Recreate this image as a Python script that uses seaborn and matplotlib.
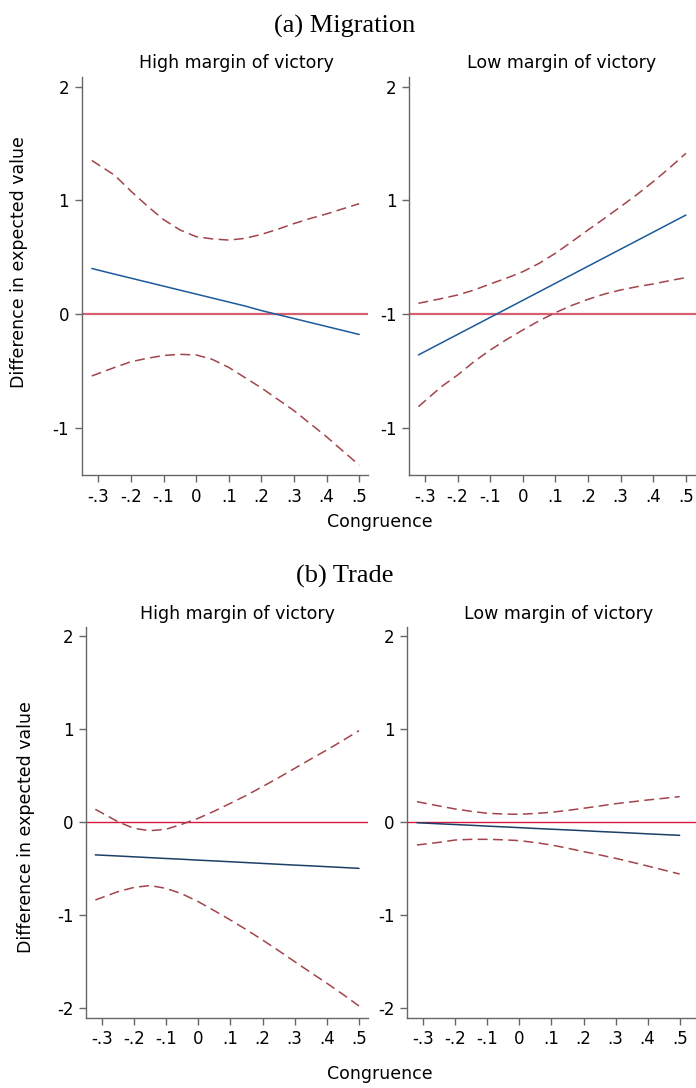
import matplotlib
matplotlib.use("Agg")
import matplotlib.pyplot as plt
import pandas as pd
import seaborn as sns

# shared grid of congruence values
congruence = [-0.32, -0.25, -0.2, -0.15, -0.1, -0.05, 0.0, 0.05, 0.1,
              0.15, 0.2, 0.25, 0.3, 0.35, 0.4, 0.45, 0.5]

# (a) Migration, high margin of victory
mig_high_est = [0.40, 0.35, 0.315, 0.28, 0.245, 0.21, 0.175, 0.14, 0.105,
                0.07, 0.03, -0.005, -0.04, -0.075, -0.11, -0.145, -0.18]
mig_high_hi = [1.35, 1.22, 1.08, 0.95, 0.83, 0.74, 0.68, 0.66, 0.65,
               0.665, 0.70, 0.745, 0.795, 0.84, 0.88, 0.925, 0.97]
mig_high_lo = [-0.545, -0.47, -0.42, -0.39, -0.365, -0.355, -0.36, -0.40, -0.47,
               -0.56, -0.65, -0.75, -0.85, -0.965, -1.08, -1.205, -1.33]

# (a) Migration, low margin of victory
mig_low_est = [-0.36, -0.255, -0.18, -0.105, -0.03, 0.045, 0.12, 0.195, 0.27,
               0.345, 0.42, 0.495, 0.57, 0.645, 0.72, 0.795, 0.87]
mig_low_hi = [0.094, 0.135, 0.167, 0.21, 0.264, 0.315, 0.372, 0.445, 0.534,
              0.635, 0.739, 0.84, 0.944, 1.05, 1.164, 1.285, 1.413]
mig_low_lo = [-0.815, -0.64, -0.537, -0.42, -0.317, -0.225, -0.141, -0.06, 0.012,
              0.075, 0.129, 0.175, 0.211, 0.24, 0.264, 0.293, 0.32]

# (b) Trade, high margin of victory
trade_high_est = [-0.35, -0.362, -0.371, -0.38, -0.389, -0.397, -0.407, -0.415, -0.424,
                  -0.433, -0.442, -0.451, -0.46, -0.468, -0.477, -0.486, -0.495]
trade_high_hi = [0.14, 0.007, -0.065, -0.09, -0.075, -0.02, 0.043, 0.12, 0.204,
                 0.29, 0.384, 0.48, 0.58, 0.68, 0.778, 0.88, 0.986]
trade_high_lo = [-0.835, -0.746, -0.70, -0.68, -0.71, -0.77, -0.853, -0.95, -1.05,
                 -1.155, -1.265, -1.38, -1.498, -1.615, -1.73, -1.85, -1.975]

# (b) Trade, low margin of victory
trade_low_est = [-0.004, -0.016, -0.024, -0.032, -0.041, -0.049, -0.057, -0.066, -0.074,
                 -0.082, -0.09, -0.099, -0.107, -0.115, -0.124, -0.132, -0.14]
trade_low_hi = [0.222, 0.175, 0.143, 0.118, 0.097, 0.089, 0.086, 0.095, 0.108,
                0.128, 0.151, 0.175, 0.2, 0.22, 0.24, 0.258, 0.276]
trade_low_lo = [-0.244, -0.215, -0.19, -0.183, -0.183, -0.188, -0.197, -0.218, -0.244,
                -0.278, -0.315, -0.35, -0.387, -0.428, -0.47, -0.513, -0.556]

x_ticks = [-0.3, -0.2, -0.1, 0.0, 0.1, 0.2, 0.3, 0.4, 0.5]
x_tick_labels = ["-.3", "-.2", "-.1", "0", ".1", ".2", ".3", ".4", ".5"]
mig_y_ticks = [2, 1, 0, -1]
mig_left_labels = ["2", "1", "0", "-1"]
mig_right_labels = ["2", "1", "-1", "-1"]
trade_y_ticks = [2, 1, 0, -1, -2]
trade_y_labels = ["2", "1", "0", "-1", "-2"]

sns.set_style("ticks")
plt.rcParams["font.family"] = ["DejaVu Sans"]
plt.rcParams["text.color"] = "black"

W, H = 696, 1088
fig = plt.figure(figsize=(W / 100, H / 100), dpi=100)

SPINE = "#666666"
DASH = "#a2444b"


def px_axes(x0, y0, x1, y1):
    return fig.add_axes([x0 / W, 1 - y1 / H, (x1 - x0) / W, (y1 - y0) / H])


def panel(ax, est, hi, lo, est_color, ref_color, ref_lw, xlim, ylim,
          yticks, ylabels):
    df = pd.DataFrame({"congruence": congruence, "est": est, "hi": hi, "lo": lo})
    ax.axhline(0, color=ref_color, lw=ref_lw, zorder=1)
    for col in ["hi", "lo"]:
        sns.lineplot(data=df, x="congruence", y=col, ax=ax, color=DASH,
                     linewidth=1.1, errorbar=None)
        ax.lines[-1].set_dashes([6.5, 3.5])
    sns.lineplot(data=df, x="congruence", y="est", ax=ax, color=est_color,
                 linewidth=1.1, errorbar=None)
    ax.set_xlim(*xlim)
    ax.set_ylim(*ylim)
    ax.set_xticks(x_ticks)
    ax.set_xticklabels(x_tick_labels)
    ax.set_yticks(yticks)
    ax.set_yticklabels(ylabels)
    ax.set_xlabel("")
    ax.set_ylabel("")
    for s in ["top", "right"]:
        ax.spines[s].set_visible(False)
    for s in ["left", "bottom"]:
        ax.spines[s].set_color(SPINE)
        ax.spines[s].set_linewidth(1.0)
    ax.tick_params(direction="out", length=5, width=1.0, color=SPINE,
                   labelsize=12, labelcolor="black", pad=4)


# (a) Migration
ax1 = px_axes(81.7, 77, 368, 475)
panel(ax1, mig_high_est, mig_high_hi, mig_high_lo, "#1c5a99", "#d95f72", 1.6,
      (-0.351, 0.527), (-1.416, 2.084), mig_y_ticks, mig_left_labels)
ax2 = px_axes(409.3, 77, 696, 475)
panel(ax2, mig_low_est, mig_low_hi, mig_low_lo, "#1c5a99", "#d95f72", 1.6,
      (-0.348, 0.531), (-1.416, 2.084), mig_y_ticks, mig_right_labels)

# (b) Trade
ax3 = px_axes(86, 627, 368, 1018)
panel(ax3, trade_high_est, trade_high_hi, trade_high_lo, "#1b3f66", "#d7193f", 1.0,
      (-0.349, 0.528), (-2.104, 2.1), trade_y_ticks, trade_y_labels)
ax4 = px_axes(407.3, 627, 696, 1018)
panel(ax4, trade_low_est, trade_low_hi, trade_low_lo, "#1b3f66", "#d7193f", 1.0,
      (-0.35, 0.551), (-2.104, 2.1), trade_y_ticks, trade_y_labels)


def text_px(x, y, s, **kw):
    fig.text(x / W, 1 - y / H, s, ha="center", va="center", color="black", **kw)


serif = dict(family=["Liberation Serif", "DejaVu Serif"], fontsize=19)
text_px(345, 26, "(a) Migration", **serif)
text_px(345, 576, "(b) Trade", **serif)

text_px(236.5, 63, "High margin of victory", fontsize=12.5)
text_px(562, 63, "Low margin of victory", fontsize=12.5)
text_px(237.5, 614, "High margin of victory", fontsize=12.5)
text_px(559, 614, "Low margin of victory", fontsize=12.5)

text_px(380, 522, "Congruence", fontsize=12.5)
text_px(380, 1074, "Congruence", fontsize=12.5)

text_px(19, 262, "Difference in expected value", fontsize=12.5, rotation=90)
text_px(26, 827, "Difference in expected value", fontsize=12.5, rotation=90)

fig.savefig("out.png", dpi=100, facecolor="white")
